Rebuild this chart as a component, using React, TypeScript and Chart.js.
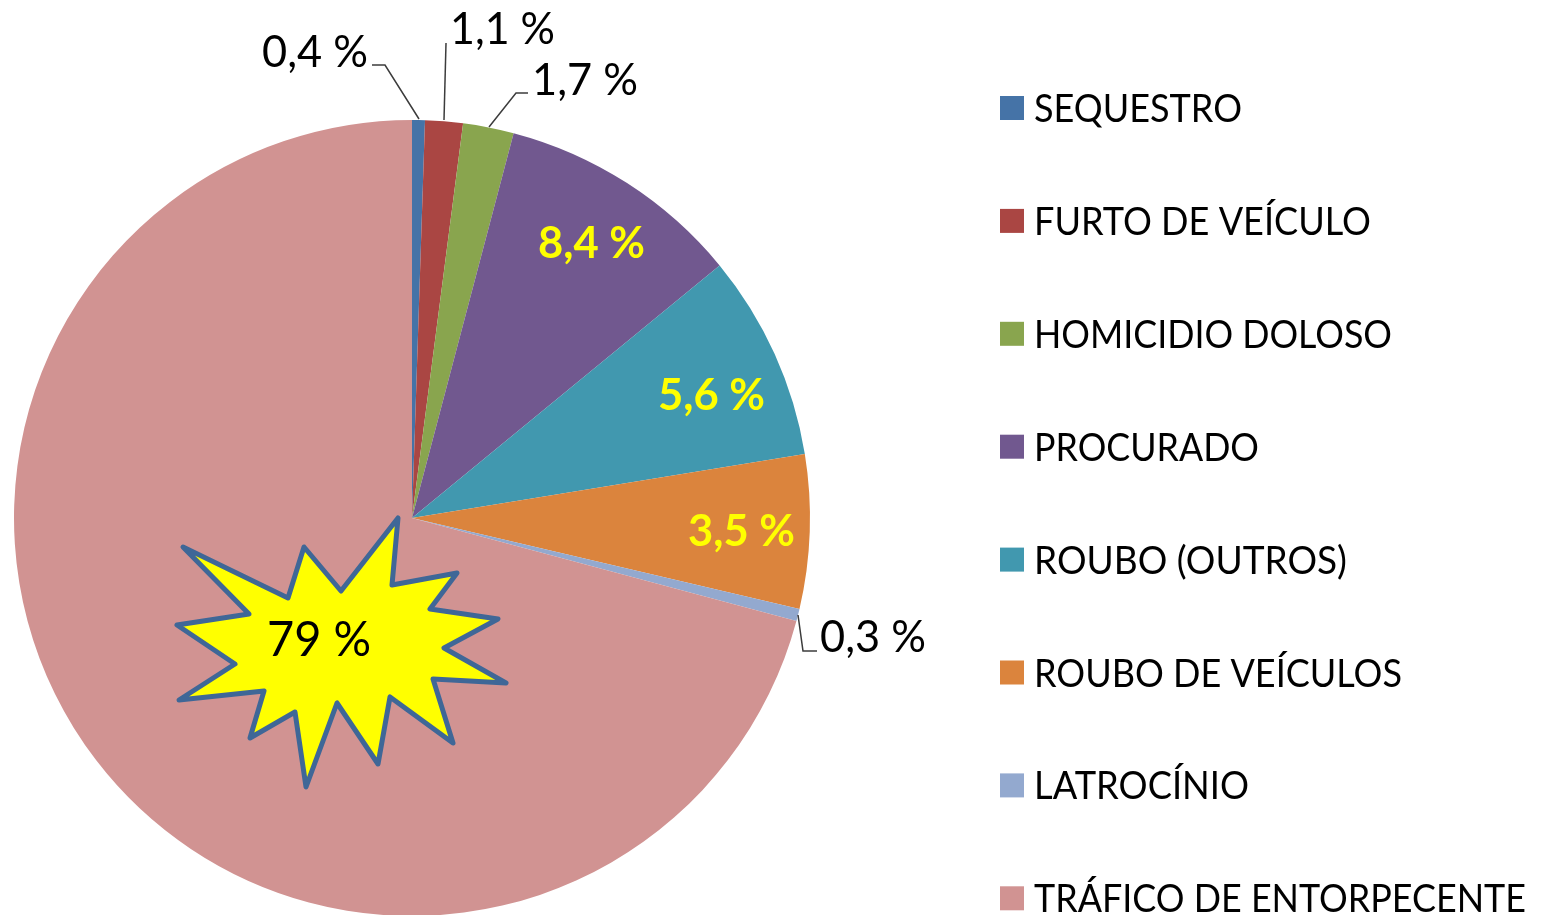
import React, { useEffect, useRef } from "react";
import { Chart, registerables } from "chart.js";

Chart.register(...registerables);

const categories = ["SEQUESTRO", "FURTO DE VEÍCULO", "HOMICIDIO DOLOSO", "PROCURADO", "ROUBO (OUTROS)", "ROUBO DE VEÍCULOS", "LATROCÍNIO", "TRÁFICO DE ENTORPECENTE"];
const sliceShares = [0.52, 1.53, 2.06, 9.95, 8.37, 6.24, 0.5, 70.83];
const sliceLabels = ["0,4 %", "1,1 %", "1,7 %", "8,4 %", "5,6 %", "3,5 %", "0,3 %", "79 %"];
const colors = ["#4573A7", "#AA4643", "#89A54E", "#71588F", "#4198AF", "#DB843D", "#93A9CF", "#D19392"];

const FONT = "Lato, 'Open Sans', sans-serif";

const labelPlacement = [
  { x: 262, y: 67, w: 106, size: 44, color: "#000", bold: false },
  { x: 450, y: 44, w: 105, size: 44, color: "#000", bold: false },
  { x: 532, y: 95, w: 106, size: 44, color: "#000", bold: false },
  { x: 538, y: 258, w: 107, size: 44, color: "#FFFF00", bold: true },
  { x: 658, y: 410, w: 107, size: 44, color: "#FFFF00", bold: true },
  { x: 688, y: 546, w: 107, size: 44, color: "#FFFF00", bold: true },
  { x: 820, y: 652, w: 106, size: 44, color: "#000", bold: false },
  { x: 267, y: 656, w: 104, size: 48, color: "#000", bold: false },
];

const leaders = [
  [[372, 65], [385, 65], [419, 119]],
  [[446, 43], [444, 120]],
  [[528, 93], [516, 93], [489, 127]],
  [[798, 615], [803, 651], [817, 651]],
];

const star = [[183,547],[288,598],[304,547],[341,591],[398,518],[392,585],[457,573],[430,609],[498,619],[444,648],[506,683],[433,679],[453,743],[390,697],[378,764],[337,703],[306,787],[295,712],[250,738],[264,691],[179,700],[235,664],[177,625],[249,614]];

const legendRight = [1242, 1371, 1392, 1259, 1347, 1402, 1249, 1526];

const overlay = {
  id: "overlay",
  afterDatasetsDraw(chart: any) {
    const ctx = chart.ctx as CanvasRenderingContext2D;
    ctx.save();
    // burst
    ctx.beginPath();
    star.forEach(([x, y], i) => (i ? ctx.lineTo(x, y) : ctx.moveTo(x, y)));
    ctx.closePath();
    ctx.fillStyle = "#FFFF00";
    ctx.fill();
    ctx.strokeStyle = "#3F6797";
    ctx.lineWidth = 5;
    ctx.lineJoin = "round";
    ctx.stroke();
    // leader lines
    ctx.strokeStyle = "#3c3c3c";
    ctx.lineWidth = 1.5;
    ctx.lineJoin = "miter";
    leaders.forEach((pts) => {
      ctx.beginPath();
      pts.forEach(([x, y], i) => (i ? ctx.lineTo(x, y) : ctx.moveTo(x, y)));
      ctx.stroke();
    });
    // data labels
    ctx.textAlign = "left";
    ctx.textBaseline = "alphabetic";
    sliceLabels.forEach((t, i) => {
      const p = labelPlacement[i];
      ctx.font = `${p.bold ? "700" : "400"} ${p.size}px ${FONT}`;
      ctx.fillStyle = p.color;
      ctx.fillText(t, p.x, p.y, p.w);
    });
    // legend
    categories.forEach((t, i) => {
      const cy = 108 + i * 112.9;
      ctx.fillStyle = colors[i];
      ctx.fillRect(1000, cy - 12, 24, 24);
      ctx.font = `400 38px ${FONT}`;
      ctx.fillStyle = "#000";
      ctx.fillText(t, 1034, cy + 14, legendRight[i] - 1034);
    });
    ctx.restore();
  },
};

export default function App() {
  const ref = useRef<HTMLCanvasElement>(null);
  useEffect(() => {
    document.body.style.margin = "0";
    const chart = new Chart(ref.current!, {
      type: "pie",
      data: {
        labels: categories,
        datasets: [{ data: sliceShares, backgroundColor: colors, borderWidth: 0 }],
      },
      options: {
        animation: false,
        responsive: false,
        layout: { padding: { left: 14, top: 120, right: 731, bottom: 44 } },
        plugins: { legend: { display: false }, tooltip: { enabled: false } },
      },
      plugins: [overlay],
    });
    return () => chart.destroy();
  }, []);
  return (
    <div style={{ width: 1541, height: 915, overflow: "hidden" }}>
      <canvas ref={ref} width={1541} height={960} style={{ display: "block" }} />
    </div>
  );
}
